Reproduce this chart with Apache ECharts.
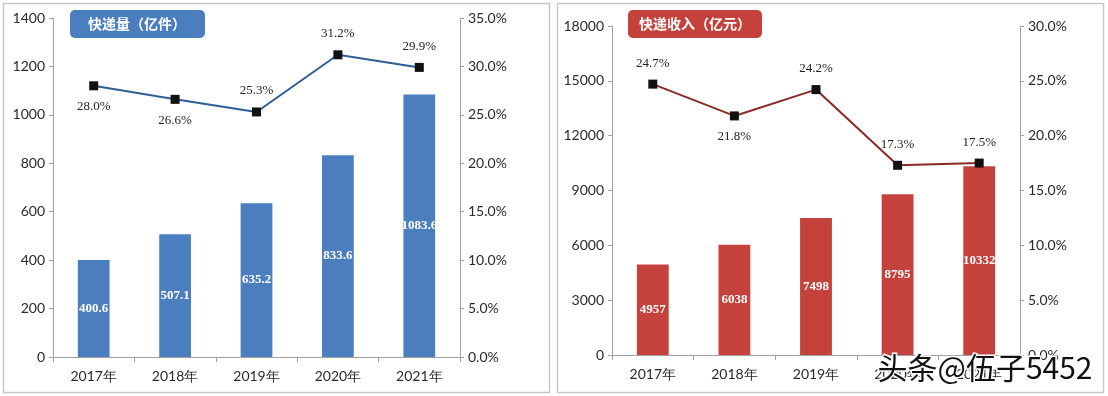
<!DOCTYPE html>
<html><head><meta charset="utf-8">
<script src="https://cdn.jsdelivr.net/npm/echarts@6/dist/echarts.min.js"></script>
<style>html,body{margin:0;padding:0;background:#fff}#c{width:1108px;height:396px}</style>
</head><body><div id="c"></div>
<script>
const years = ['2017年','2018年','2019年','2020年','2021年'];
const volume = [400.6, 507.1, 635.2, 833.6, 1083.6];
const volumeGrowth = [28.0, 26.6, 25.3, 31.2, 29.9];
const volumeGrowthPos = ['bottom','bottom','top','top','top'];
const revenue = [4957, 6038, 7498, 8795, 10332];
const revenueGrowth = [24.7, 21.8, 24.2, 17.3, 17.5];
const revenueGrowthPos = ['top','bottom','top','top','top'];
const leftTitle = '快递量（亿件）';
const rightTitle = '快递收入（亿元）';
const watermark = '头条@伍子5452';

const axisFont = {fontFamily:'Lato', fontSize:14, color:'#2a2a2a'};
const axisLineStyle = {lineStyle:{color:'#a0a0a0', width:1}};
function valAxis(gi, pos, min, max, interval, fmt){
  return {type:'value', gridIndex:gi, position:pos, min:min, max:max, interval:interval,
    splitLine:{show:false}, axisLine:Object.assign({show:true}, axisLineStyle),
    axisTick:{show:true, length:4, lineStyle:{color:'#a0a0a0'}},
    axisLabel:Object.assign({margin:8, formatter:fmt}, axisFont)};
}
function catAxis(gi){
  return {type:'category', gridIndex:gi, data:years,
    axisLine:axisLineStyle, axisTick:{show:true, length:5, lineStyle:{color:'#a0a0a0'}},
    axisLabel:Object.assign({margin:12}, axisFont)};
}
function barSeries(xi, yi, data, color){
  return {type:'bar', xAxisIndex:xi, yAxisIndex:yi, data:data, barWidth:'39%',
    itemStyle:{color:color},
    label:{show:true, position:'inside', color:'#fff', fontFamily:'Liberation Serif', fontWeight:'bold', fontSize:13,
      formatter:p=>String(p.value)}};
}
function lineSeries(xi, yi, data, pos, color){
  return {type:'line', xAxisIndex:xi, yAxisIndex:yi, symbol:'rect', symbolSize:9,
    data:data.map((v,i)=>({value:v, label:{position:pos[i]}})),
    lineStyle:{color:color, width:2}, itemStyle:{color:'#111'},
    label:{show:true, distance:10, color:'#222', fontFamily:'Liberation Serif', fontSize:13,
      formatter:p=>p.value.toFixed(1)+'%'}};
}
const chart = echarts.init(document.getElementById('c'));
chart.setOption({
  animation:false,
  backgroundColor:'#fff',
  grid:[
    {left:53, right:648, top:18, bottom:39},
    {left:612, right:88, top:26, bottom:41}
  ],
  xAxis:[catAxis(0), catAxis(1)],
  yAxis:[
    valAxis(0,'left',0,1400,200,v=>v),
    valAxis(0,'right',0,35,5,v=>v.toFixed(1)+'%'),
    valAxis(1,'left',0,18000,3000,v=>v),
    valAxis(1,'right',0,30,5,v=>v.toFixed(1)+'%')
  ],
  series:[
    barSeries(0,0,volume,'#4A7EBF'),
    lineSeries(0,1,volumeGrowth,volumeGrowthPos,'#2F5E96'),
    barSeries(1,2,revenue,'#C4423B'),
    lineSeries(1,3,revenueGrowth,revenueGrowthPos,'#8A2A26')
  ],
  graphic:[
    {type:'rect', shape:{x:3.5,y:3.5,width:546,height:389}, style:{fill:'none', stroke:'#c8c8c8', lineWidth:1.5}, z:-1},
    {type:'rect', shape:{x:557.5,y:3.5,width:546,height:389}, style:{fill:'none', stroke:'#c8c8c8', lineWidth:1.5}, z:-1},
    {type:'rect', shape:{x:70,y:10,width:135,height:28,r:5}, style:{fill:'#4A7EBF'}},
    {type:'text', x:137, y:24, style:{text:leftTitle, fill:'#fff', font:'bold 14px "Noto Sans CJK SC"', align:'center', verticalAlign:'middle'}},
    {type:'rect', shape:{x:628,y:10,width:134,height:28,r:5}, style:{fill:'#C4423B'}},
    {type:'text', x:695, y:24, style:{text:rightTitle, fill:'#fff', font:'bold 14px "Noto Sans CJK SC"', align:'center', verticalAlign:'middle'}},
    {type:'text', x:985, y:368, z:100, style:{text:watermark, fill:'#111', stroke:'#fff', lineWidth:3, font:'30px "Noto Sans CJK SC"', align:'center', verticalAlign:'middle'}}
  ]
});
</script></body></html>
